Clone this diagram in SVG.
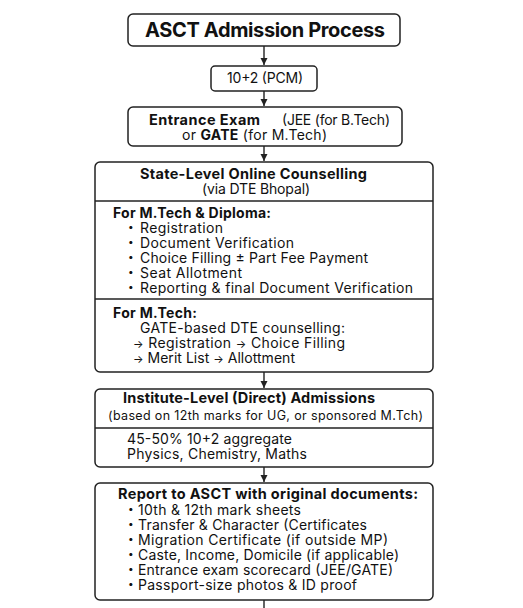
<svg xmlns="http://www.w3.org/2000/svg" width="523" height="608" viewBox="0 0 523 608">
<defs>
<marker id="ah" markerWidth="8" markerHeight="8" refX="7" refY="4" orient="auto" markerUnits="userSpaceOnUse">
<path d="M0,0.5 L7,4 L0,7.5 Z" fill="#222"/>
</marker>
<style>
.box{fill:#fff;stroke:#222;stroke-width:1.5}
.div{stroke:#222;stroke-width:1.3}
.con{stroke:#222;stroke-width:1.4;fill:none}
text{font-family:Inter,"Open Sans","Liberation Sans",sans-serif;fill:#111}
.t{font-size:14px}
.b{font-weight:700}
.h{font-size:14.5px;font-weight:700}
.s{font-size:12.5px}
.d{font-size:10px}
</style>
</defs>
<rect width="523" height="608" fill="#fff"/>
<g id="connectors">
<line class="con" x1="264" y1="46" x2="264" y2="65" marker-end="url(#ah)"/>
<line class="con" x1="264" y1="91" x2="264" y2="106" marker-end="url(#ah)"/>
<line class="con" x1="264" y1="146" x2="264" y2="161" marker-end="url(#ah)"/>
<line class="con" x1="264" y1="372" x2="264" y2="388" marker-end="url(#ah)"/>
<line class="con" x1="264" y1="467" x2="264" y2="482" marker-end="url(#ah)"/>
<line class="con" x1="264" y1="600" x2="264" y2="608"/>
</g>
<g id="title">
<rect class="box" x="128" y="14" width="272" height="32" rx="5"/>
<text class="b" x="145" y="37" font-size="20" textLength="240">ASCT Admission Process</text>
</g>
<g id="pcm">
<rect class="box" x="211" y="66" width="106" height="25" rx="4"/>
<text class="t" x="227" y="83" textLength="76">10+2 (PCM)</text>
</g>
<g id="entrance">
<rect class="box" x="128" y="107" width="274" height="39" rx="5"/>
<text class="h" x="149" y="125" textLength="111">Entrance Exam</text>
<text class="t" x="282" y="125" textLength="108">(JEE (for B.Tech)</text>
<text class="t" x="182" y="140" textLength="145">or <tspan class="b">GATE</tspan> (for M.Tech)</text>
</g>
<g id="state">
<rect class="box" x="95" y="162" width="338" height="210" rx="5"/>
<line class="div" x1="95" y1="201" x2="433" y2="201"/>
<line class="div" x1="95" y1="299" x2="433" y2="299"/>
<text class="h" x="140" y="179" textLength="227">State-Level Online Counselling</text>
<text class="t" x="202" y="194" textLength="108">(via DTE Bhopal)</text>
<text class="t b" x="113" y="218" textLength="158">For M.Tech &amp; Diploma:</text>
<g class="t">
<text x="128" y="233"><tspan class="d" y="230">•</tspan><tspan x="140" y="233" textLength="83">Registration</tspan></text>
<text x="128" y="248"><tspan class="d" y="245">•</tspan><tspan x="140" y="248" textLength="154">Document Verification</tspan></text>
<text x="128" y="263"><tspan class="d" y="260">•</tspan><tspan x="140" y="263" textLength="228">Choice Filling ± Part Fee Payment</tspan></text>
<text x="128" y="278"><tspan class="d" y="275">•</tspan><tspan x="140" y="278" textLength="102">Seat Allotment</tspan></text>
<text x="128" y="293"><tspan class="d" y="290">•</tspan><tspan x="140" y="293" textLength="273">Reporting &amp; final Document Verification</tspan></text>
</g>
<text class="t b" x="113" y="318" textLength="84">For M.Tech:</text>
<text class="t" x="140" y="333" textLength="205">GATE-based DTE counselling:</text>
<text class="t" x="133" y="348" textLength="212"><tspan font-size="11">→</tspan> Registration  <tspan font-size="11">→</tspan> Choice Filling</text>
<text class="t" x="133" y="363" textLength="162"><tspan font-size="11">→</tspan> Merit List <tspan font-size="11">→</tspan> Allottment</text>
</g>
<g id="institute">
<rect class="box" x="95" y="389" width="338" height="78" rx="5"/>
<line class="div" x1="95" y1="428" x2="433" y2="428"/>
<text class="h" x="123" y="403" textLength="252">Institute-Level (Direct) Admissions</text>
<text class="s" x="108" y="420" textLength="315">(based on 12th marks for UG, or sponsored M.Tch)</text>
<text class="t" x="127" y="444" textLength="165">45-50% 10+2 aggregate</text>
<text class="t" x="127" y="459" textLength="180">Physics, Chemistry, Maths</text>
</g>
<g id="report">
<rect class="box" x="95" y="483" width="338" height="117" rx="5"/>
<text class="h" x="118" y="499" textLength="300">Report to ASCT with original documents:</text>
<g class="t">
<text x="128" y="515"><tspan class="d" y="512">•</tspan><tspan x="138" y="515" textLength="163">10th &amp; 12th mark sheets</tspan></text>
<text x="128" y="530"><tspan class="d" y="527">•</tspan><tspan x="138" y="530" textLength="229">Transfer &amp; Character (Certificates</tspan></text>
<text x="128" y="545"><tspan class="d" y="542">•</tspan><tspan x="138" y="545" textLength="250">Migration Certificate (if outside MP)</tspan></text>
<text x="128" y="560"><tspan class="d" y="557">•</tspan><tspan x="138" y="560" textLength="261">Caste, Income, Domicile (if applicable)</tspan></text>
<text x="128" y="575"><tspan class="d" y="572">•</tspan><tspan x="138" y="575" textLength="255">Entrance exam scorecard (JEE/GATE)</tspan></text>
<text x="128" y="590"><tspan class="d" y="587">•</tspan><tspan x="138" y="590" textLength="219">Passport-size photos &amp; ID proof</tspan></text>
</g>
</g>
</svg>
